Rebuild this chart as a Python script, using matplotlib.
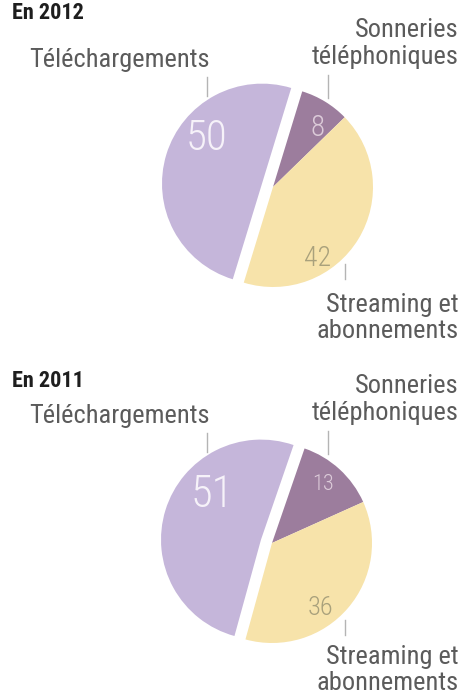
import numpy as np
import matplotlib
matplotlib.use('Agg')
import matplotlib.pyplot as plt

# data
categories = ['Sonneries téléphoniques', 'Streaming et abonnements', 'Téléchargements']
years = ['En 2012', 'En 2011']
values_2012 = [8, 42, 50]
values_2011 = [13, 36, 51]

# colors
colors = ['#9c7d9d', '#f7e3aa', '#c5b6da']
num_colors = ['#dccbd9', '#a9a17c', '#f6f2f9']
text_grey = '#5b5b5b'
line_grey = '#b4b4b4'

W, H = 467, 695
FONT = ['Roboto Condensed', 'DejaVu Sans']


def Y(y):
    # image pixel row -> axes y (up)
    return H - y


fig = plt.figure(figsize=(W / 100, H / 100), dpi=100)
ax = fig.add_axes([0, 0, 1, 1])

# layout for each block: pie centre, start angle, offsets for numbers
blocks = [
    dict(values=values_2012, title=years[0], dy=0, center=(273, 187), start=73,
         num_pos=[(45, -59), (45, 71), (-66, -49)], num_size=[21, 20, 31]),
    dict(values=values_2011, title=years[1], dy=356, center=(272, 543), start=71,
         num_pos=[(51, -58), (48, 65), (-60, -48)], num_size=[16, 19, 32]),
]

for b in blocks:
    cx, cy = b['center']
    ax.pie(b['values'], colors=colors, startangle=b['start'], counterclock=False,
           explode=[0, 0, 11.5], radius=100, center=(cx, Y(cy)),
           wedgeprops=dict(linewidth=0))

    for v, (dx, dy), fs, c in zip(b['values'], b['num_pos'], b['num_size'], num_colors):
        ax.text(cx + dx, Y(cy + dy), str(v), ha='center', va='center',
                fontsize=fs, color=c, family=FONT, fontweight='light')

    d = b['dy']
    ax.text(12, Y(19 + d * 1.035), b['title'], ha='left', va='baseline',
            fontsize=16, fontweight='bold', color='#1e1e1e', family=FONT)

    # category labels
    ax.text(210, Y(67 + d), 'Téléchargements', ha='right', va='baseline',
            fontsize=19, color=text_grey, family=FONT)
    ax.text(459, Y(37 + d), 'Sonneries', ha='right', va='baseline',
            fontsize=19, color=text_grey, family=FONT)
    ax.text(459, Y(64 + d), 'téléphoniques', ha='right', va='baseline',
            fontsize=19, color=text_grey, family=FONT)
    ax.text(459, Y(312 + d * 0.99), 'Streaming et', ha='right', va='baseline',
            fontsize=19, color=text_grey, family=FONT)
    ax.text(459, Y(338 + d * 0.99), 'abonnements', ha='right', va='baseline',
            fontsize=19, color=text_grey, family=FONT)

    # leader lines
    ax.plot([207, 207], [Y(77 + d), Y(96 + d)], color=line_grey, lw=1)
    ax.plot([328, 328], [Y(75 + d), Y(98 + d)], color=line_grey, lw=1)
    ax.plot([345, 345], [Y(264 + d), Y(279 + d)], color=line_grey, lw=1)

ax.set_xlim(0, W)
ax.set_ylim(0, H)
ax.set_aspect('auto')
ax.axis('off')

fig.savefig('out.png', dpi=100)
